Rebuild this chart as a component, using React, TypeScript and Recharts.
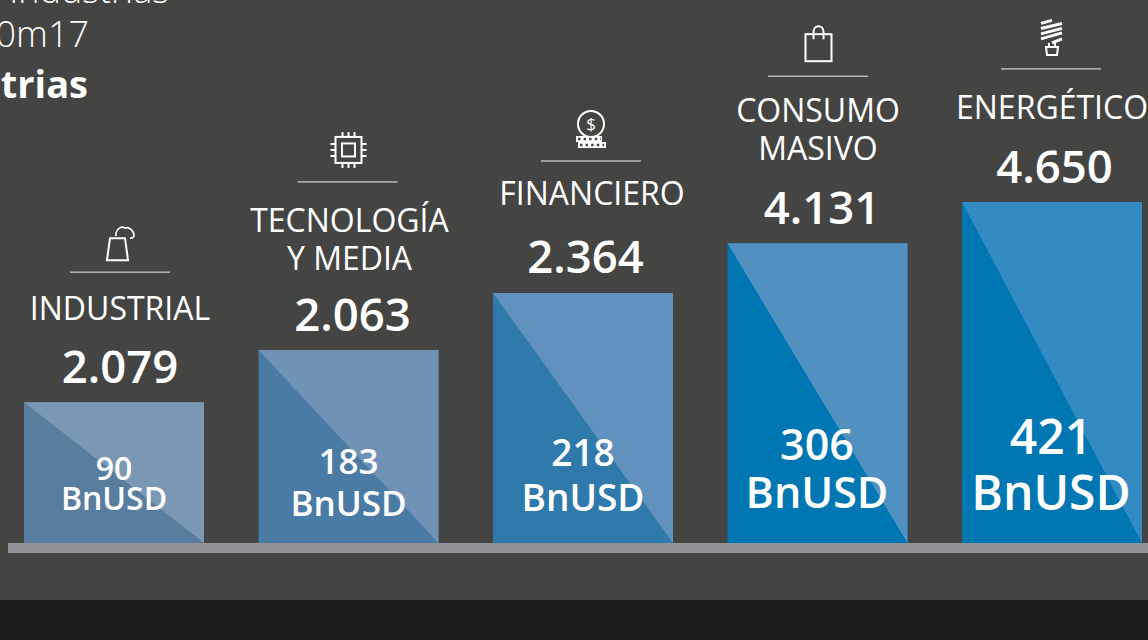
import React from "react";
import { BarChart, Bar, XAxis, YAxis, LabelList } from "recharts";

// bar heights don't follow either figure in the source graphic, so they are read as a relative level (tallest = 100)
const categories = ["INDUSTRIAL", "TECNOLOGÍA\nY MEDIA", "FINANCIERO", "CONSUMO\nMASIVO", "ENERGÉTICO"];
const barLevels = [41.3, 56.6, 73.3, 87.9, 100];
const topLabels = ["2.079", "2.063", "2.364", "4.131", "4.650"];
const innerValues = ["90", "183", "218", "306", "421"];
const unit = "BnUSD";

const data = categories.map((name, i) => ({ name, level: barLevels[i] }));

const darkColors = ["#587d9e", "#4a7ba5", "#2f7aab", "#0077b3", "#0076b3"];
const lightColors = ["#7a97b3", "#6f92b6", "#6092bd", "#5091c2", "#348bc4"];

// offsets from bar centre and bar top, per column
const layout = [
  { valueX: 6, valueY: -19, catX: 6, catY: -82, ruleX: 6, ruleY: -130, iconX: 4, iconY: -159, innerSize: 32, innerY: [78, 108], innerX: 0 },
  { valueX: 4, valueY: -19, catX: 1, catY: -118, ruleX: -1, ruleY: -168, iconX: 0, iconY: -200, innerSize: 35, innerY: [124, 166], innerX: 0 },
  { valueX: 2.5, valueY: -20, catX: 9, catY: -88, ruleX: 8, ruleY: -132, iconX: 8, iconY: -163, innerSize: 37, innerY: [173, 218], innerX: 0 },
  { valueX: 4.5, valueY: -19, catX: 0.5, catY: -121, ruleX: 0.5, ruleY: -167, iconX: 1, iconY: -198, innerSize: 43, innerY: [217, 265], innerX: -0.5 },
  { valueX: 2.5, valueY: -19, catX: 0, catY: -83, ruleX: -1, ruleY: -133, iconX: 0, iconY: -164, innerSize: 48, innerY: [252, 308], innerX: -1 },
];

const FONT = "'Open Sans', sans-serif";

const SplitBar = (props: any) => {
  const { x, y, width, height, index } = props;
  return (
    <g>
      <rect x={x} y={y} width={width} height={height} fill={darkColors[index]} />
      <polygon
        points={`${x},${y} ${x + width},${y} ${x + width},${y + height}`}
        fill={lightColors[index]}
      />
    </g>
  );
};

const Icon = ({ index, x, y }: { index: number; x: number; y: number }) => {
  const line = { fill: "none", stroke: "#fff", strokeWidth: 2 };
  if (index === 0) {
    return (
      <g transform={`translate(${x},${y})`} {...line}>
        <path d="M-11 17 L-8 -5 L7 -5 L10 17 Z" />
        <path d="M-2 -7 C-3 -13 3 -18 7 -15 C11 -17 16 -12 16 -8 C16 -6 14 -5 12 -5" strokeWidth={1.6} />
      </g>
    );
  }
  if (index === 1) {
    return (
      <g transform={`translate(${x},${y})`} {...line}>
        <rect x={-13} y={-13} width={26} height={26} />
        <rect x={-6.5} y={-6.5} width={13} height={13} />
        <path d="M-6 -13V-18M0 -13V-18M6 -13V-18M-6 13V18M0 13V18M6 13V18M-13 -6H-18M-13 0H-18M-13 6H-18M13 -6H18M13 0H18M13 6H18" />
      </g>
    );
  }
  if (index === 2) {
    return (
      <g transform={`translate(${x},${y})`} {...line}>
        <circle cx={0} cy={-6} r={13} />
        <text x={0} y={0} textAnchor="middle" fontFamily={FONT} fontSize={17} fill="#fff" stroke="none">$</text>
        <rect x={-15} y={6} width={26} height={6} fill="#fff" stroke="none" />
        <rect x={-13} y={12} width={28} height={6} fill="#fff" stroke="none" />
        <path d="M-13 9H10M-11 15H13" stroke="#444443" strokeWidth={2.4} strokeDasharray="2.4 3.2" />
      </g>
    );
  }
  if (index === 3) {
    return (
      <g transform={`translate(${x},${y})`} {...line}>
        <rect x={-13} y={-11} width={26} height={27} />
        <path d="M-5 -6V-13C-5 -21 5 -21 5 -13V-6" />
      </g>
    );
  }
  return (
    <g transform={`translate(${x},${y})`} {...line}>
      <path d="M-11 -14.5L0 -17.5M-11 -9.5L10 -14.5M-11 -4L10 -9.5M-11 1L10 -5M0 5L10 1" strokeWidth={3} />
      <path d="M-3 5V9M3 5V9" />
      <path d="M-6 9H6L5 17H-5Z" />
    </g>
  );
};

const ColumnLabels = (props: any) => {
  const { x, y, width, index } = props;
  const cx = x + width / 2;
  const l = layout[index];
  const catLines = categories[index].split("\n");
  return (
    <g fontFamily={FONT} fill="#fff" textAnchor="middle">
      <Icon index={index} x={cx + l.iconX} y={y + l.iconY} />
      <line x1={cx + l.ruleX - 50} x2={cx + l.ruleX + 50} y1={y + l.ruleY} y2={y + l.ruleY} stroke="#eee" strokeWidth={1} />
      {catLines.map((t: string, i: number) => (
        <text key={t} x={cx + l.catX} y={y + l.catY + (i - catLines.length + 1) * 38 + (catLines.length > 1 ? 38 : 0)} fontSize={32} fontWeight={500}>
          {t}
        </text>
      ))}
      <text x={cx + l.valueX} y={y + l.valueY} fontSize={45.5} fontWeight={600}>{topLabels[index]}</text>
      <text x={cx + l.innerX} y={y + l.innerY[0]} fontSize={l.innerSize} fontWeight={600}>{innerValues[index]}</text>
      <text x={cx + l.innerX} y={y + l.innerY[1]} fontSize={l.innerSize} fontWeight={600}>{unit}</text>
    </g>
  );
};

export default function App() {
  return (
    <div style={{ position: "fixed", left: 0, top: 0, width: 1148, height: 640, overflow: "hidden", background: "#444443" }}>
      <div style={{ position: "absolute", left: 0, top: 600, width: 1148, height: 40, background: "#1c1c1b" }} />
      <div style={{ position: "absolute", left: 8, top: 543, width: 1140, height: 10, background: "#929396" }} />
      <svg width={1148} height={110} style={{ position: "absolute", left: 0, top: 0 }} fontFamily={FONT} fill="#fff" textAnchor="end">
        <text x={169} y={3} fontSize={36} fontWeight={300}>Industrias</text>
        <text x={89} y={47} fontSize={36} fontWeight={300}>0m17</text>
        <text x={88} y={98} fontSize={38} fontWeight={700}>trias</text>
      </svg>
      <div style={{ position: "absolute", left: -3, top: 0 }}>
        <BarChart width={1172.5} height={640} data={data} margin={{ top: 0, right: 0, bottom: 97, left: 0 }} barSize={180}>
          <XAxis dataKey="name" hide />
          <YAxis domain={[0, 159.2]} hide />
          <Bar dataKey="level" isAnimationActive={false} shape={<SplitBar />}>
            <LabelList dataKey="level" content={<ColumnLabels />} />
          </Bar>
        </BarChart>
      </div>
    </div>
  );
}
